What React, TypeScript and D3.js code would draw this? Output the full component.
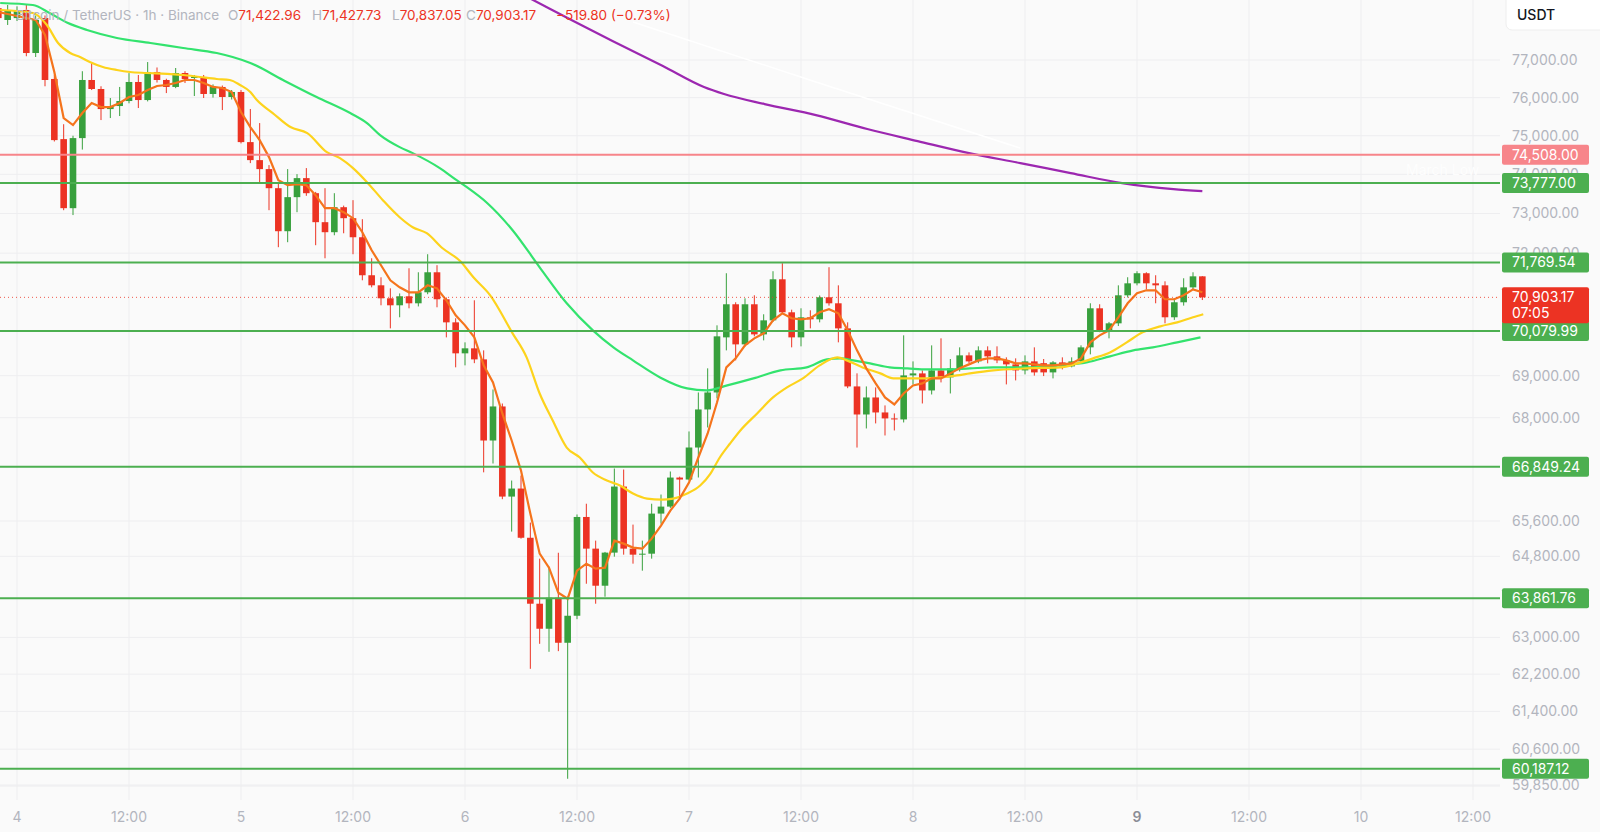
import React from "react";
import * as d3 from "d3";

// ---------- DATA ----------
const firstCandle = Date.UTC(2026, 1, 3, 22); // 3rd 22:00, hourly candles
const dayZero = Date.UTC(2026, 1, 4, 0);

const opens = [78400,78078,78130,78350,77187,78132,76494,74912,73135,74938,76467,76228,75698,75778,75910,76414,75936,76680,76467,76282,76653,76520,76547,76096,76282,76016,76149,74834,74367,74135,73645,72552,73416,73903,73517,72780,72527,73160,72881,72400,71450,71201,70880,70708,70930,70757,71028,71524,70856,70290,69537,69658,69391,67462,68265,66160,66345,65220,63742,63190,63875,62883,63476,65693,64974,64142,64884,66391,64974,64838,64860,65770,65930,66599,66553,67298,68194,68598,69924,70733,69754,70733,69997,70339,71350,70536,69924,70413,70364,70905,70757,70143,68742,68075,68479,68123,67982,67958,69006,69054,68646,69126,68958,69175,69488,69343,69609,69464,69367,69271,69126,69343,69300,69078,69319,69222,69343,69682,70634,70095,70266,70954,71250,71500,71250,71200,70414,70782,71150,71422.96];
const highs = [78520,78486,78450,78486,78200,78200,76600,75300,75000,76700,76945,76300,75990,76282,76650,76600,76945,76800,76500,76786,76700,76600,76600,76350,76320,76200,76200,75700,75330,74238,73800,74135,74006,74161,73550,73645,73517,73200,73339,72855,71873,71400,71126,71000,71624,71524,71974,71700,70900,70390,69803,70831,69609,68670,68335,66530,66645,65565,64748,64568,64881,63900,65750,65996,65155,64900,66808,66785,65519,65155,65996,66207,66739,66620,67675,68598,69175,70217,71500,70782,70880,70954,70487,71550,71750,70600,70634,70585,70950,71650,71200,70290,69055,68742,68718,68290,68100,69973,69343,69126,69730,69900,69400,69682,69560,69706,69706,69706,69440,69416,69488,69682,69400,69350,69440,69440,69730,70757,70733,70300,71200,71400,71550,71524,71450,71300,70880,71375,71524,71427.73];
const lows = [78020,77943,78050,77100,77080,76300,74850,73084,72960,74640,76200,75409,75462,75515,75850,75725,75900,76400,76120,76250,76388,76042,75990,76000,75672,75950,74800,74290,73800,73084,72150,72275,73033,73450,72200,71873,72450,72500,71974,71325,71150,70708,70143,70414,70634,70680,70980,70659,69924,69200,69247,69300,66720,66925,66100,65360,65200,62316,62860,62686,62700,59980,63400,64186,63742,63897,64793,64838,64636,64478,64748,65540,65900,66090,66530,66600,67769,68456,69609,69367,69700,69950,69851,70300,70500,69682,69706,70143,70290,70700,69803,68700,67297,67745,67864,67580,67698,67887,68790,68336,68550,68838,68574,69100,69300,69300,69296,69300,68790,68886,69030,69000,68990,68934,69150,69200,69300,69512,70050,69900,70200,70900,71200,71100,70757,70266,70350,70700,71100,70837.05];
const closes = [78130,78350,78350,77187,78078,76467,74886,73135,74938,76467,76228,75698,75778,75910,76414,75936,76680,76467,76282,76653,76494,76547,76096,76282,76016,76149,74834,74367,74135,73645,72552,73416,73903,73517,72780,72527,73160,72881,72400,71450,71201,70880,70708,70930,70757,71028,71524,70856,70290,69537,69658,69391,67462,68265,66160,66345,65220,63742,63190,63875,62883,63476,65693,64974,64142,64884,66391,64974,64838,64860,65770,65930,66599,66553,67298,68194,68598,69949,70733,69754,70733,69997,70339,71350,70536,69924,70413,70364,70905,70757,70143,68742,68075,68479,68123,67982,67958,69006,69054,68646,69126,68958,69175,69488,69343,69609,69464,69367,69271,69126,69343,69078,69078,69319,69222,69343,69682,70634,70095,70266,70954,71250,71500,71250,71200,70414,70782,71150,71423,70903.17];

// fast EMA (orange) read per candle
const orangeValues = [78295,78241,78187,78132,78078,77672,76680,75462,75278,75593,75857,75751,75751,75857,76016,76069,76201,76308,76334,76388,76467,76467,76388,76282,76255,76149,75620,75226,74886,74445,73851,73722,73748,73722,73466,73135,73135,73033,72881,72527,72074,71698,71325,71151,71028,71028,71201,71126,70831,70462,70217,69924,69247,68838,68099,67462,66762,65770,64861,64545,63986,63853,64478,64635,64523,64545,65155,65087,64997,64974,65200,65496,65839,66114,66484,67065,67627,68360,69198,69415,69730,69900,70022,70339,70511,70389,70364,70389,70536,70610,70511,70095,69609,69175,68814,68479,68313,68574,68766,68814,68934,68934,69054,69175,69271,69367,69416,69416,69367,69295,69295,69271,69247,69247,69271,69295,69416,69803,69973,70095,70414,70757,71003,71077,71077,70856,70856,70954,71101,71028];

// yellow MA (hours from day 4 00:00, price)
const yellowHours = [-1.8,1.7,3.2,4.4,5.7,6.75,7.8,9.2,10.7,12.1,13.9,16.1,17.8,19.6,21.4,22.8,23.9,25.0,25.7,27.4,29.3,31.1,33.2,34.6,36.0,37.5,39.2,41.0,42.4,43.9,45.6,47.5,48.9,50.7,53.1,54.6,56.0,57.4,58.9,60.3,61.7,63.2,64.6,66.0,67.5,69.1,70.3,71.8,73.2,74.3,75.3,76.4,77.5,79.3,81.0,82.5,84.2,86.0,87.9,88.9,90.6,92.5,93.9,95.4,97.1,98.9,100.7,102.1,104.6,108.2,111.8,113.6,115.3,117.1,118.9,120.6,122.5,124.3,126.0,127.1];
const yellowValues = [78350,78268,77943,77457,77187,77080,76947,76814,76733,76680,76653,76627,76600,76547,76494,76467,76334,76149,75936,75593,75226,75069,74574,74419,74161,73800,73339,72906,72653,72502,72124,71798,71400,70954,70022,69440,68574,67934,67297,67065,66716,66530,66415,66230,66114,66091,66114,66230,66415,66692,67065,67391,67698,68099,68479,68718,68934,69247,69440,69367,69198,69054,68934,68934,68934,68958,69006,69054,69126,69175,69198,69295,69416,69560,69803,70046,70193,70290,70414,70487];

// green MA
const greenHours = [-1.8,1.7,3.5,5.4,7.5,10.7,14.3,17.8,21.4,23.1,25.0,28.5,32.1,35.7,37.5,38.9,41.0,42.4,45.3,47.1,48.2,50.4,53.1,56.0,58.9,61.7,63.9,66.0,68.9,71.8,73.9,76.1,78.9,81.8,84.6,86.8,88.2,89.6,91.4,93.5,95.4,97.5,99.6,102.1,104.6,108.2,111.8,114.6,117.1,119.6,121.7,124.3,126.8];
const greenValues = [78541,78486,78268,78000,77807,77591,77457,77322,77187,77080,76920,76467,76016,75593,75330,75017,74704,74548,74161,73851,73671,73262,72577,71648,70757,70095,69682,69367,68958,68694,68646,68766,68934,69126,69198,69391,69416,69367,69295,69198,69175,69150,69150,69175,69198,69198,69247,69319,69464,69609,69682,69803,69924];

// purple MA
const purpleHours = [52,55.3,59.4,63.8,69.2,73.6,75.75,80.1,85.6,91.1,96.5,102.0,107.5,112.9,118.4,123.9,127.0];
const purpleValues = [79060,78622,78078,77509,76840,76282,76096,75830,75540,75174,74860,74548,74290,74032,73774,73620,73569];

// faint white line
const whiteHours = [66.0,85.6,107.5];
const whiteValues = [78024,76414,74678];

const greenLevels = [73777.0, 71769.54, 70079.99, 66849.24, 63861.76, 60187.12];
const redLevel = 74508.0;
const lastPrice = 70903.17;
const countdown = "07:05";

const priceTicks = [77000,76000,75000,74000,73000,72000,69000,68000,65600,64800,63000,62200,61400,60600,59850];

const legendTitle = "Bitcoin / TetherUS · 1h · Binance";
const legendO = "71,422.96";
const legendH = "71,427.73";
const legendL = "70,837.05";
const legendC = "70,903.17";
const legendChange = "−519.80 (−0.73%)";

// ---------- STYLE ----------
const BG = "#fafafa";
const GRID = "#eeeef0";
const UP = "#38a03d";
const DOWN = "#ec3323";
const LEVEL_GREEN = "#4caf50";
const LEVEL_RED = "#f7858a";
const TICK = "#b2b5be";
const FONT = "Inter, 'Noto Sans', Roboto, sans-serif";

const PLOT_RIGHT = 1500;
const PLOT_BOTTOM = 786;

export default function App() {
  React.useEffect(() => {
    document.body.style.margin = "0";
  }, []);

  const x = d3
    .scaleUtc()
    .domain([new Date(dayZero), new Date(Date.UTC(2026, 1, 10, 0))])
    .range([17, 1361]);
  const y = d3.scaleLog().domain([59850, 77000]).range([785, 60]);

  const candleTime = (i: number) => new Date(firstCandle + i * 3600e3);
  const hourTime = (h: number) => new Date(dayZero + h * 3600e3);

  const bodyW = 6.6;
  const candles = opens.map((o, i) => ({
    t: candleTime(i),
    o,
    h: highs[i],
    l: lows[i],
    c: closes[i],
  }));

  const lineGen = d3
    .line<[Date, number]>()
    .x((d) => x(d[0]))
    .y((d) => y(d[1]))
    .curve(d3.curveMonotoneX);
  const lineLinear = d3
    .line<[Date, number]>()
    .x((d) => x(d[0]))
    .y((d) => y(d[1]));

  const orangePts: [Date, number][] = orangeValues.map((v, i) => [candleTime(i), v]);
  const yellowPts: [Date, number][] = yellowHours.map((h, i) => [hourTime(h), yellowValues[i]]);
  const greenPts: [Date, number][] = greenHours.map((h, i) => [hourTime(h), greenValues[i]]);
  const purplePts: [Date, number][] = purpleHours.map((h, i) => [hourTime(h), purpleValues[i]]);
  const whitePts: [Date, number][] = whiteHours.map((h, i) => [hourTime(h), whiteValues[i]]);

  const timeTicks: Date[] = d3.range(0, 14).map((k) => new Date(dayZero + k * 12 * 3600e3));
  const fmtPrice = d3.format(",.2f");
  const timeLabel = (d: Date) =>
    d.getUTCHours() === 0 ? String(d.getUTCDate()) : "12:00";

  const boxX = 1502;
  const boxW = 87;

  return (
    <svg
      width={1600}
      height={832}
      style={{ display: "block", position: "absolute", left: 0, top: 0 }}
      fontFamily={FONT}
    >
      <defs>
        <clipPath id="plot">
          <rect x={0} y={0} width={PLOT_RIGHT} height={PLOT_BOTTOM} />
        </clipPath>
      </defs>
      <rect x={0} y={0} width={1600} height={832} fill={BG} />

      {/* grid */}
      <g>
        {priceTicks.map((p) => (
          <line key={p} x1={0} x2={PLOT_RIGHT} y1={y(p)} y2={y(p)} stroke={GRID} strokeWidth={1} />
        ))}
        {timeTicks.map((t) => (
          <line key={+t} x1={x(t)} x2={x(t)} y1={0} y2={800} stroke={GRID} strokeWidth={1} />
        ))}
        <line x1={0} x2={PLOT_RIGHT} y1={PLOT_BOTTOM} y2={PLOT_BOTTOM} stroke="#ececee" strokeWidth={1} />
      </g>

      <g clipPath="url(#plot)">
        {/* faint white line */}
        <path d={lineGen(whitePts) || ""} fill="none" stroke="#ffffff" strokeWidth={1.5} />

        {/* candles */}
        {candles.map((d, i) => {
          const up = d.c >= d.o;
          const col = up ? UP : DOWN;
          const cx = x(d.t);
          const top = y(Math.max(d.o, d.c));
          const bot = y(Math.min(d.o, d.c));
          return (
            <g key={i}>
              <line x1={cx} x2={cx} y1={y(d.h)} y2={y(d.l)} stroke={col} strokeWidth={1} />
              <rect x={cx - bodyW / 2} y={top} width={bodyW} height={Math.max(1, bot - top)} fill={col} />
            </g>
          );
        })}

        {/* moving averages */}
        <path d={lineGen(greenPts) || ""} fill="none" stroke="#33e36e" strokeWidth={2.2} />
        <path d={lineGen(yellowPts) || ""} fill="none" stroke="#fdd31c" strokeWidth={2.2} />
        <path d={lineLinear(orangePts) || ""} fill="none" stroke="#f5741c" strokeWidth={2.2} />
        <path d={lineGen(purplePts) || ""} fill="none" stroke="#9c27b0" strokeWidth={2.2} />

        {/* levels */}
        <line x1={0} x2={PLOT_RIGHT + 2} y1={y(redLevel)} y2={y(redLevel)} stroke={LEVEL_RED} strokeWidth={2} />
        {greenLevels.map((p) => (
          <line key={p} x1={0} x2={PLOT_RIGHT + 2} y1={y(p)} y2={y(p)} stroke={LEVEL_GREEN} strokeWidth={2} />
        ))}
        <line
          x1={0}
          x2={PLOT_RIGHT}
          y1={y(lastPrice)}
          y2={y(lastPrice)}
          stroke={DOWN}
          strokeWidth={1}
          strokeDasharray="1 3"
          opacity={0.8}
        />
      </g>

      {/* March Low faint label */}
      <text x={1406} y={175} fontSize={14} fill="#ffffff" opacity={0.9}>
        March Low
      </text>

      {/* legend */}
      <g fontSize={13.5}>
        <text x={16} y={20} fill={TICK}>
          {legendTitle}
        </text>
        <text x={228} y={20} fill={TICK}>
          O<tspan fill={DOWN}>{legendO}</tspan>
        </text>
        <text x={312} y={20} fill={TICK}>
          H<tspan fill={DOWN}>{legendH}</tspan>
        </text>
        <text x={392} y={20} fill={TICK}>
          L<tspan fill={DOWN}>{legendL}</tspan>
        </text>
        <text x={466} y={20} fill={TICK}>
          C<tspan fill={DOWN}>{legendC}</tspan>
        </text>
        <text x={556} y={20} fill={DOWN}>
          {legendChange}
        </text>
      </g>

      {/* price axis ticks */}
      <g fontSize={14} fill={TICK}>
        {priceTicks.map((p) => (
          <text key={p} x={1512} y={y(p)} dy="0.35em">
            {fmtPrice(p)}
          </text>
        ))}
      </g>

      {/* level boxes */}
      <g fontSize={14}>
        <rect x={boxX} y={y(redLevel) - 10} width={boxW} height={20} rx={2} fill={LEVEL_RED} />
        <text x={1512} y={y(redLevel)} dy="0.35em" fill="#ffffff">
          {fmtPrice(redLevel)}
        </text>
        {greenLevels.map((p) => (
          <g key={p}>
            <rect x={boxX} y={y(p) - 10} width={boxW} height={20} rx={2} fill={LEVEL_GREEN} />
            <text x={1512} y={y(p)} dy="0.35em" fill="#ffffff">
              {fmtPrice(p)}
            </text>
          </g>
        ))}
        <rect x={boxX} y={y(lastPrice) - 10} width={boxW} height={36} rx={2} fill={DOWN} />
        <text x={1512} y={y(lastPrice)} dy="0.35em" fill="#ffffff">
          {fmtPrice(lastPrice)}
        </text>
        <text x={1512} y={y(lastPrice) + 16} dy="0.35em" fill="#ffffff">
          {countdown}
        </text>
      </g>

      {/* currency button */}
      <rect x={1506} y={-6} width={100} height={36} rx={6} fill="#ffffff" stroke="#eeeeee" />
      <text x={1517} y={20} fontSize={14} fontWeight={500} fill="#131722">
        USDT
      </text>

      {/* time axis */}
      <g fontSize={14}>
        {timeTicks.map((t) => {
          const isCurrent = t.getUTCHours() === 0 && t.getUTCDate() === 9;
          return (
            <text
              key={+t}
              x={x(t)}
              y={817}
              dy="0.35em"
              textAnchor="middle"
              fill={isCurrent ? "#8a8d96" : TICK}
              fontWeight={isCurrent ? 600 : 400}
            >
              {timeLabel(t)}
            </text>
          );
        })}
      </g>
    </svg>
  );
}
